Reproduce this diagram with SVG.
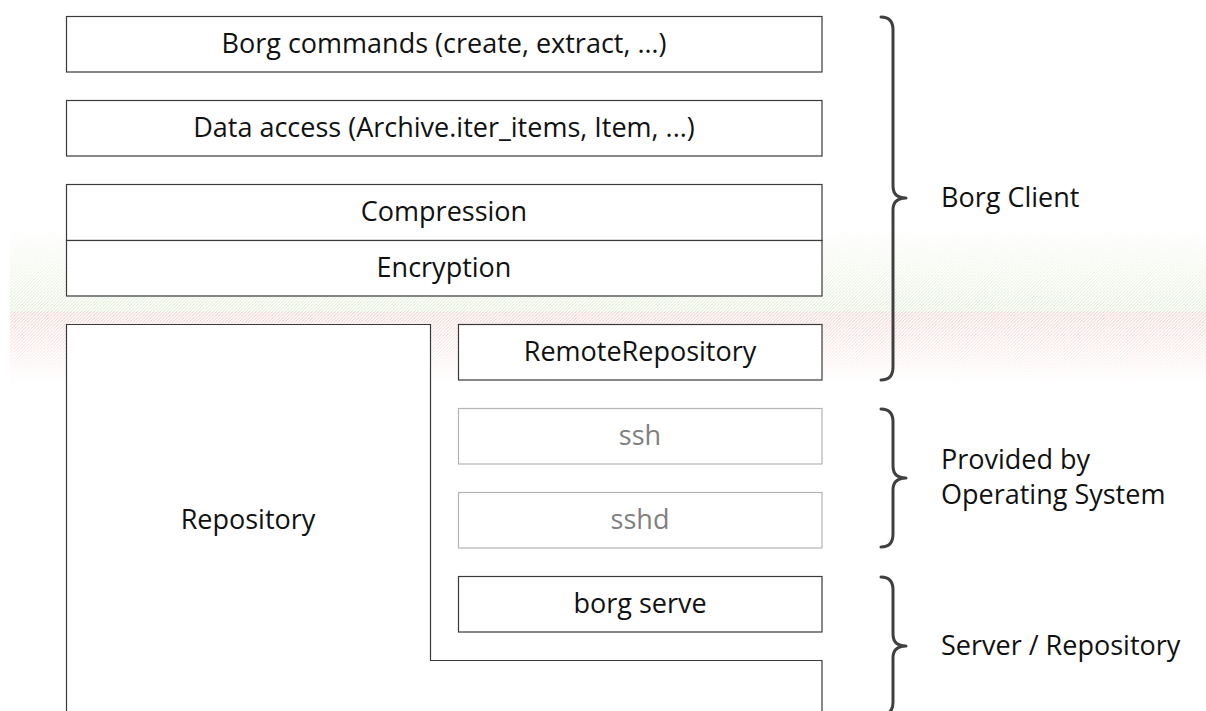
<svg xmlns="http://www.w3.org/2000/svg" width="1206" height="711" viewBox="0 0 1206 711">
<defs>
<style>
.box{fill:#fff;stroke:#3a3a3a;stroke-width:1.2}
.gbox{fill:#fff;stroke:#b4b4b4;stroke-width:1.2}
.t{font-family:"Open Sans","Liberation Sans",sans-serif;font-size:27px;fill:#111;text-anchor:middle}
.g{fill:#7f7f7f}
.l{text-anchor:start}
.brace{fill:none;stroke:#404040;stroke-width:3;stroke-linecap:round;stroke-linejoin:round}
</style>
<pattern id="hg" width="3.3" height="3.3" patternUnits="userSpaceOnUse">
<path d="M-1,4.3 L4.3,-1" stroke="#9cc070" stroke-width="0.9"/>
</pattern>
<pattern id="hr" width="3.3" height="3.3" patternUnits="userSpaceOnUse">
<path d="M-1,4.3 L4.3,-1" stroke="#e07878" stroke-width="0.9"/>
</pattern>
<linearGradient id="fadeUp" x1="0" y1="0" x2="0" y2="1">
<stop offset="0" stop-color="#fff" stop-opacity="0"/>
<stop offset="1" stop-color="#fff" stop-opacity="0.4"/>
</linearGradient>
<linearGradient id="fadeDown" x1="0" y1="0" x2="0" y2="1">
<stop offset="0" stop-color="#fff" stop-opacity="0.45"/>
<stop offset="1" stop-color="#fff" stop-opacity="0"/>
</linearGradient>
<mask id="mg"><rect x="0" y="226" width="1206" height="86" fill="url(#fadeUp)"/></mask>
<mask id="mr"><rect x="0" y="312" width="1206" height="74" fill="url(#fadeDown)"/></mask>
</defs>
<rect width="1206" height="711" fill="#fff"/>
<g id="band">
<rect x="10" y="226" width="1196" height="86" fill="url(#hg)" mask="url(#mg)"/>
<rect x="10" y="312" width="1196" height="74" fill="url(#hr)" mask="url(#mr)"/>
</g>
<g id="commands"><rect class="box" x="66.5" y="16.5" width="755.5" height="55.5"/><text class="t" x="444" y="53">Borg commands (create, extract, …)</text></g>
<g id="data-access"><rect class="box" x="66.5" y="100.5" width="755.5" height="55.5"/><text class="t" x="444" y="137">Data access (Archive.iter_items, Item, ...)</text></g>
<g id="compression"><rect class="box" x="66.5" y="184.5" width="755.5" height="56"/><text class="t" x="444" y="221">Compression</text></g>
<g id="encryption"><rect class="box" x="66.5" y="240.5" width="755.5" height="55.5"/><text class="t" x="444" y="277">Encryption</text></g>
<g id="repository"><path class="box" d="M66.5,730 L66.5,324.5 L430.5,324.5 L430.5,660.5 L822,660.5 L822,730"/><text class="t" x="248" y="529">Repository</text></g>
<g id="remote-repository"><rect class="box" x="458.5" y="324.5" width="363.5" height="55.5"/><text class="t" x="640" y="361">RemoteRepository</text></g>
<g id="ssh"><rect class="gbox" x="458.5" y="408.5" width="363.5" height="55.5"/><text class="t g" x="640" y="445">ssh</text></g>
<g id="sshd"><rect class="gbox" x="458.5" y="492.5" width="363.5" height="55.5"/><text class="t g" x="640" y="529">sshd</text></g>
<g id="borg-serve"><rect class="box" x="458.5" y="576.5" width="363.5" height="55.5"/><text class="t" x="640" y="613">borg serve</text></g>
<g id="connectors">
<path class="brace" d="M881,17 Q893,17 893,30 L893,186 Q893,198 906,198 Q893,198 893,210 L893,367 Q893,380 881,380"/>
<path class="brace" d="M881,409 Q893,409 893,422 L893,466 Q893,478 906,478 Q893,478 893,490 L893,534 Q893,547 881,547"/>
<path class="brace" d="M881,577 Q893,577 893,590 L893,634 Q893,646 906,646 Q893,646 893,658 L893,702 Q893,715 881,715"/>
</g>
<g id="labels">
<text class="t l" x="941" y="207">Borg Client</text>
<text class="t l" x="941" y="469">Provided by</text>
<text class="t l" x="941" y="504">Operating System</text>
<text class="t l" x="941" y="655">Server / Repository</text>
</g>
</svg>
